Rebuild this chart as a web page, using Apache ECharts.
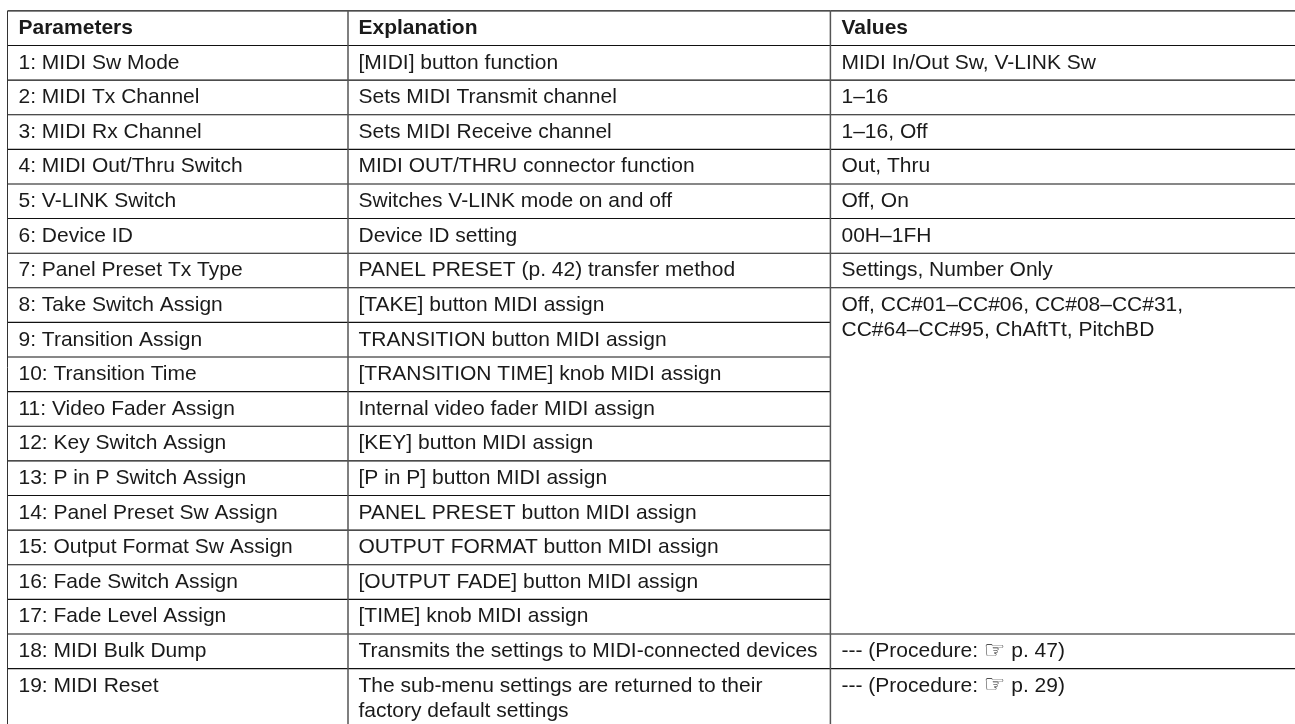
<!DOCTYPE html>
<html><head><meta charset="utf-8">
<style>html,body{margin:0;padding:0;background:#fff}#c{width:1295px;height:724px}</style>
<script src="https://cdn.jsdelivr.net/npm/echarts@6/dist/echarts.min.js"></script>
</head><body><div id="c"></div>
<script>
const headers = ['Parameters','Explanation','Values'];
const parameters = ['1: MIDI Sw Mode','2: MIDI Tx Channel','3: MIDI Rx Channel','4: MIDI Out/Thru Switch','5: V-LINK Switch','6: Device ID','7: Panel Preset Tx Type','8: Take Switch Assign','9: Transition Assign','10: Transition Time','11: Video Fader Assign','12: Key Switch Assign','13: P in P Switch Assign','14: Panel Preset Sw Assign','15: Output Format Sw Assign','16: Fade Switch Assign','17: Fade Level Assign','18: MIDI Bulk Dump','19: MIDI Reset'];
const explanations = ['[MIDI] button function','Sets MIDI Transmit channel','Sets MIDI Receive channel','MIDI OUT/THRU connector function','Switches V-LINK mode on and off','Device ID setting','PANEL PRESET (p. 42) transfer method','[TAKE] button MIDI assign','TRANSITION button MIDI assign','[TRANSITION TIME] knob MIDI assign','Internal video fader MIDI assign','[KEY] button MIDI assign','[P in P] button MIDI assign','PANEL PRESET button MIDI assign','OUTPUT FORMAT button MIDI assign','[OUTPUT FADE] button MIDI assign','[TIME] knob MIDI assign','Transmits the settings to MIDI-connected devices','The sub-menu settings are returned to their\nfactory default settings'];
const valueTexts = ['MIDI In/Out Sw, V-LINK Sw','1–16','1–16, Off','Out, Thru','Off, On','00H–1FH','Settings, Number Only','Off, CC#01–CC#06, CC#08–CC#31,\nCC#64–CC#95, ChAftTt, PitchBD','','','','','','','','','','--- (Procedure: ☞ p. 47)','--- (Procedure: ☞ p. 29)'];

// layout
const colX = [7.5,348,830.4,1295];
const colW = [1,1.5,1.5];
const colStroke = ['#333','#555','#555'];
const textX = [18.5,358.5,841.5];
const rowH = 34.65, tableTop = 10.85;
const rowCount = 20.6;
const fs = 21, lh = 25.5;

const textData = [];
headers.forEach((t,c)=>textData.push({c,r:0,t,b:1}));
[parameters,explanations,valueTexts].forEach((arr,c)=>arr.forEach((t,r)=>{ if(t) textData.push({c,r:r+1,t,b:0}); }));

const lineData = [];
for(let r=0;r<=19;r++){
  lineData.push([colX[0],r,colX[2]]);
  if(r<=8||r>=18) lineData.push([colX[2],r,colX[3]]);
}

const chart = echarts.init(document.getElementById('c'),null,{renderer:'canvas'});
chart.setOption({
  animation:false,
  backgroundColor:'#fff',
  grid:{left:0,right:0,top:tableTop,height:rowCount*rowH},
  xAxis:{type:'value',min:0,max:1295,show:false},
  yAxis:{type:'value',min:0,max:rowCount,inverse:true,show:false},
  series:[
    {type:'custom',silent:true,clip:false,data:lineData,
     encode:{x:0,y:1},
     renderItem(p,api){
       const a=api.coord([api.value(0),api.value(1)]), b=api.coord([api.value(2),api.value(1)]);
       return {type:'line',shape:{x1:a[0],y1:a[1],x2:b[0],y2:b[1]},style:{stroke:'#111',lineWidth:1.1}};
     }},
    {type:'custom',silent:true,clip:false,data:colX.slice(0,3).map(x=>[x,0]),
     encode:{x:0,y:1},
     renderItem(p,api){
       const a=api.coord([api.value(0),0]), b=api.coord([api.value(0),rowCount]);
       return {type:'line',shape:{x1:a[0],y1:a[1],x2:b[0],y2:b[1]},style:{stroke:colStroke[p.dataIndex],lineWidth:colW[p.dataIndex]}};
     }},
    {type:'custom',silent:true,clip:false,data:textData.map((d,i)=>[i,0]),
     encode:{x:0,y:1},
     renderItem(p,api){
       const d=textData[p.dataIndex];
       const a=api.coord([textX[d.c],d.r+0.5]);
       const parts=d.t.split('☞');
       return {type:'text',x:a[0],y:a[1]-lh/2,style:{
         text:parts.length>1?`${parts[0]}{h|☞}${parts[1]}`:d.t,
         rich:{h:{fontFamily:'DejaVu Sans',fontSize:24,fill:'#111'}},
         font:`${d.b?'bold ':''}${fs}px "Liberation Sans"`,
         fill:'#1a1a1a',verticalAlign:'top',align:'left',lineHeight:lh
       }};
     }}
  ]
});
</script></body></html>
